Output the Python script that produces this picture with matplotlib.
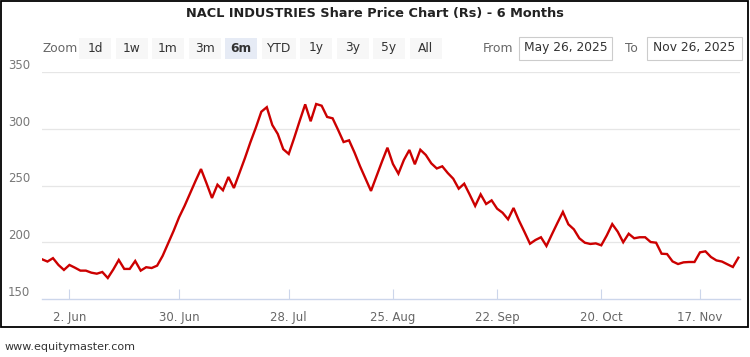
import matplotlib
matplotlib.use("Agg")
import matplotlib.pyplot as plt
from matplotlib.patches import Rectangle
import numpy as np
import pandas as pd

# trading days between 26 May and 26 Nov 2025 (NSE holidays left out)
holidays = ["2025-08-15", "2025-08-27", "2025-10-02", "2025-10-22", "2025-11-05"]
dates = pd.bdate_range("2025-05-26", "2025-11-26")
dates = dates[~dates.isin(pd.to_datetime(holidays))]

# closing price (Rs)
prices = [185, 183, 186, 180, 175.6, 180, 177.6, 175, 175, 173.2,
          172.3, 173.8, 168.5, 176, 184.4, 176.5, 176.5, 183.5, 175, 178,
          177.3, 179.4, 188, 199, 210, 222, 232, 243, 254, 264.5,
          252, 239, 250.7, 245.8, 257.5, 247.8, 261, 274, 288, 301,
          315, 319, 303.3, 295.4, 282, 277.8, 292, 307, 321.5, 306.6,
          321.8, 320.3, 310.4, 309.2, 299, 288.3, 289.8, 279, 267, 256,
          245.2, 258, 271, 283.3, 269, 260.4, 272.5, 281.3, 268.7, 281.5,
          276.9, 269.5, 265, 266.9, 261, 256, 247.2, 251.6, 242, 232,
          242.2, 233.7, 236.9, 229.6, 226, 220.2, 230.2, 219, 209, 198.7,
          202, 204.4, 196.7, 207, 217, 226.7, 215.8, 211.4, 203.5, 199.6,
          198.5, 199, 197.3, 206, 216, 209.3, 200, 207.5, 203.5, 204.4,
          204.4, 200.2, 199.6, 189.9, 189.6, 183.1, 180.8, 182.3, 182.6, 182.6,
          191.1, 192, 187, 184, 183, 180.6, 178.2, 186.4]

tick_dates = ["2025-06-02", "2025-06-30", "2025-07-28", "2025-08-25",
              "2025-09-22", "2025-10-20", "2025-11-17"]
tick_labels = ["2. Jun", "30. Jun", "28. Jul", "25. Aug", "22. Sep", "20. Oct", "17. Nov"]
y_ticks = [150, 200, 250, 300, 350]

zoom_buttons = ["1d", "1w", "1m", "3m", "6m", "YTD", "1y", "3y", "5y", "All"]
active_button = "6m"

FONT = ["Liberation Sans Narrow", "DejaVu Sans"]
W, H = 750, 357


# pixel coords (from top left) -> figure fraction
def px(x, y):
    return x / W, 1 - y / H


fig = plt.figure(figsize=(W / 100, H / 100), dpi=100)

# plot area: x 42..740, y 72..299 px
ax = fig.add_axes([42 / W, 1 - 299 / H, 698 / W, 227 / H])
x = np.arange(len(prices))
ax.plot(x, prices, color="#cc0000", lw=1.7, solid_joinstyle="miter")

ax.set_xlim(0, 127.3)
ax.set_ylim(150, 350)

# gridlines
for v in y_ticks[1:]:
    ax.axhline(v, color="#e6e6e6", lw=0.9, zorder=0)

for s in ["top", "right", "left"]:
    ax.spines[s].set_visible(False)
ax.spines["bottom"].set_color("#ccd6eb")
ax.spines["bottom"].set_linewidth(1)

tick_idx = [dates.get_loc(pd.Timestamp(d)) for d in tick_dates]
ax.set_xticks(tick_idx)
ax.set_xticklabels(tick_labels, family=FONT, fontsize=8.5, color="#666666")
ax.tick_params(axis="x", direction="in", length=7.2, color="#ccd6eb", pad=8.5)

ax.set_yticks(y_ticks)
ax.set_yticklabels([str(v) for v in y_ticks], family=FONT, fontsize=8.5, color="#777777")
ax.tick_params(axis="y", length=0, pad=24.5)
for lab in ax.get_yticklabels():
    lab.set_ha("left")
    lab.set_va("bottom")

# title
fig.text(*px(375, 13), "NACL INDUSTRIES Share Price Chart (Rs) - 6 Months",
         ha="center", va="center", fontsize=9.3, fontweight="bold",
         family=FONT, color="#222222")

# range selector
fig.text(*px(60, 48), "Zoom", ha="center", va="center", fontsize=8.8,
         family=FONT, color="#666666")
bx = 79
for b in zoom_buttons:
    bw = 34 if b == "YTD" else 32
    face = "#e6ebf5" if b == active_button else "#f7f7f7"
    x0, y0 = px(bx, 59)
    fig.patches.append(Rectangle((x0, y0), bw / W, 21 / H, transform=fig.transFigure,
                                 facecolor=face, edgecolor="none"))
    fig.text(*px(bx + bw / 2, 48), b, ha="center", va="center", fontsize=8.8,
             family=FONT, color="#333333",
             fontweight="bold" if b == active_button else "normal")
    bx += bw + 4.5

fig.text(*px(498, 48), "From", ha="center", va="center", fontsize=8.8,
         family=FONT, color="#666666")
fig.text(*px(631, 48), "To", ha="center", va="center", fontsize=8.8,
         family=FONT, color="#666666")
for left, right, label in [(519, 612, "May 26, 2025"), (647, 742, "Nov 26, 2025")]:
    x0, y0 = px(left, 60)
    fig.patches.append(Rectangle((x0, y0), (right - left) / W, 23 / H,
                                 transform=fig.transFigure, facecolor="white",
                                 edgecolor="#cccccc", lw=0.8))
    fig.text(*px((left + right) / 2, 48), label, ha="center", va="center",
             fontsize=8.8, family=FONT, color="#333333")

# black frame round the chart
x0, y0 = px(1, 327)
fig.patches.append(Rectangle((x0, y0), 747 / W, 326 / H, transform=fig.transFigure,
                             facecolor="none", edgecolor="black", lw=1.3))

fig.text(*px(5, 347), "www.equitymaster.com", ha="left", va="center",
         fontsize=8.0, family=FONT, color="#333333")

fig.savefig("out.png", dpi=100)
